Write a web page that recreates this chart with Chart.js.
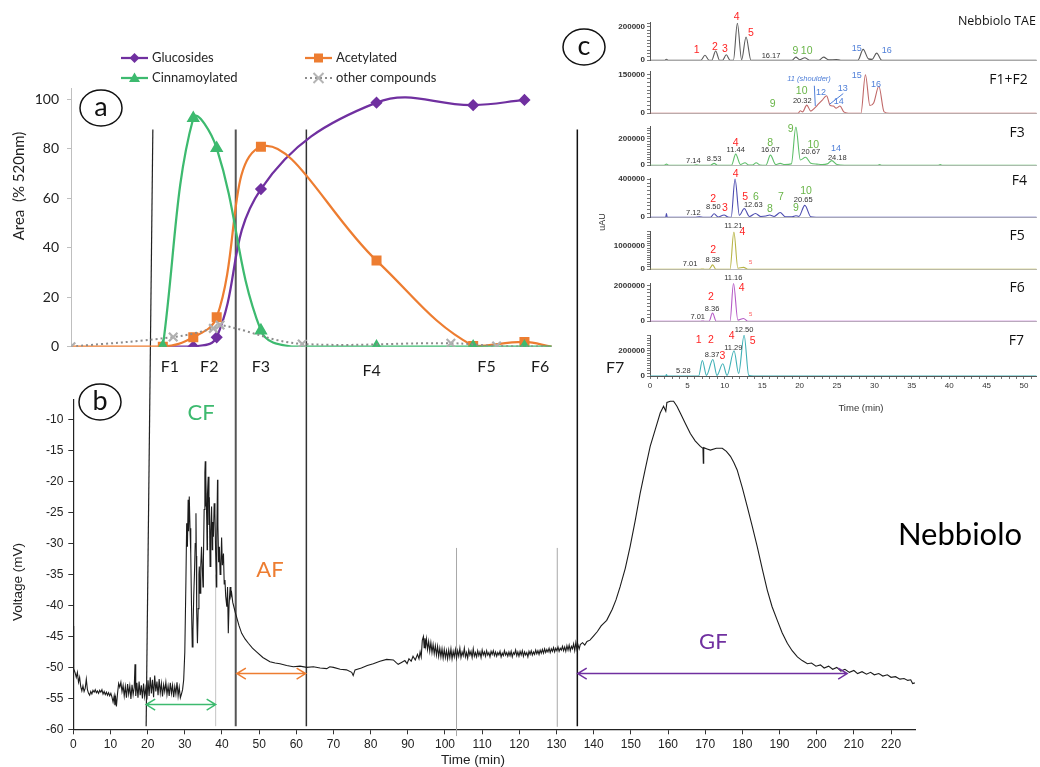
<!DOCTYPE html>
<html>
<head>
<meta charset="utf-8">
<script src="https://cdn.jsdelivr.net/npm/chart.js"></script>
<style>
  html, body { margin: 0; padding: 0; background: #fff; }
  #page { position: relative; width: 1040px; height: 767px; overflow: hidden; background: #fff; }
  #page canvas { position: absolute; }
</style>
</head>
<body>
<div id="page">
  <canvas id="elution" width="1040" height="767" style="left:0;top:0"></canvas>
  <canvas id="fractions" width="640" height="400" style="left:0;top:0"></canvas>
</div>
<script>
// ---------- panel a : composition of the fractions (% of 520 nm area), x = elution time (min)
const glucosides    = [[24.7,0],[32.9,0],[39.2,3.8],[51.1,63.7],[82.2,98.6],[108.2,97.6],[122.0,99.7]];
const acetylated    = [[0,0],[24.7,0],[32.9,3.8],[39.2,11.9],[51.1,80.8],[82.2,34.8],[108.2,0.3],[122.0,1.9],[129.3,0]];
const cinnamoylated = [[24.7,0],[32.9,92.3],[39.2,80.2],[51.1,6.5],[59.7,0],[82.2,0],[108.2,0],[122.0,0],[129.3,0]];
const otherCompounds = [[0,0],[27.5,3.9],[38.3,7.4],[40.1,8.8],[62.2,1.1],[102.2,1.4],[114.5,0.3],[129.3,0]];
const areaTicks = [0, 20, 40, 60, 80, 100];
const fractionNames = [['F1',26.6,-8.1],['F2',37.2,-8.1],['F3',51.1,-8.1],['F4',80.9,-9.8],['F5',111.8,-8.1],['F6',126.2,-8.1],['F7',146.4,-8.6]];

// ---------- panel b : detector trace during the run
const timeTicks = [0,10,20,30,40,50,60,70,80,90,100,110,120,130,140,150,160,170,180,190,200,210,220];
const voltTicks = [-60,-55,-50,-45,-40,-35,-30,-25,-20,-15,-10];
const voltageTrace = [
  [0,-49.6],[0.05,-43.3],[0.15,-50.2],[0.5,-50.9],[0.8,-51.6],[1.1,-50.8],[1.4,-52.4],[1.7,-51.6],[2.0,-53.1],[2.3,-53.8],
  [2.6,-53.0],[2.9,-53.9],[3.2,-53.4],[3.5,-51.9],[3.8,-53.6],[4.1,-54.2],[4.4,-54.5],[4.7,-53.9],[5.0,-54.3],[5.3,-53.7],
  [5.6,-54.0],[5.9,-53.6],[6.2,-54.1],[6.5,-53.8],[6.8,-54.2],[7.1,-53.7],[7.4,-54.0],[7.7,-53.6],[8.0,-54.3],[8.3,-53.9],
  [8.6,-54.4],[8.9,-54.0],[9.2,-54.5],[9.5,-54.1],[9.8,-54.6],[10.1,-54.2],[10.4,-54.8],[10.7,-55.6],[11.0,-54.6],[11.2,-56.1],
  [11.4,-55.0],[11.6,-56.3],[11.9,-54.2],[12.2,-52.6],[12.5,-53.2],[12.8,-52.4],[13.1,-53.9],[13.4,-52.9],[13.7,-54.6],[14.0,-53.1],
  [14.3,-54.9],[14.6,-52.7],[14.9,-54.3],[15.2,-53.0],[15.5,-55.1],[15.8,-52.8],[16.1,-54.4],[16.4,-53.2],[16.6,-49.5],[16.8,-54.6],
  [17.1,-52.5],[17.4,-54.9],[17.7,-52.3],[18.0,-54.5],[18.3,-52.9],[18.6,-55.0],[18.9,-52.6],[19.2,-54.7],[19.5,-53.4],[19.8,-55.2],
  [20.1,-52.1],[20.4,-54.6],[20.7,-51.6],[21.0,-54.2],[21.3,-52.0],[21.6,-54.8],[21.9,-51.3],[22.2,-53.9],[22.5,-52.3],[22.8,-54.5],
  [23.1,-51.9],[23.4,-54.1],[23.7,-52.6],[24.0,-54.7],[24.3,-52.8],[24.6,-53.9],[24.9,-52.4],[25.2,-54.4],[25.5,-53.0],[25.8,-54.6],
  [26.1,-52.5],[26.4,-54.2],[26.7,-52.9],[27.0,-54.8],[27.3,-53.1],[27.6,-54.3],[27.9,-52.4],[28.2,-54.6],[28.5,-53.2],[28.8,-54.9],
  [29.1,-54.3],[29.4,-53.6],[29.7,-52.0],[30.0,-47.5],[30.3,-36.0],[30.5,-26.7],[30.7,-30.5],[30.9,-22.9],[31.0,-28.0],[31.2,-22.4],
  [31.4,-27.5],[31.6,-31.6],[31.8,-40.0],[32.0,-46.7],[32.2,-44.0],[32.4,-38.5],[32.6,-34.8],[32.8,-30.0],[33.0,-25.1],[33.1,-32.0],
  [33.2,-41.0],[33.4,-46.1],[33.6,-40.5],[33.8,-35.0],[33.9,-33.7],[34.1,-38.0],[34.3,-33.5],[34.5,-30.5],[34.7,-34.0],[34.9,-37.0],
  [35.0,-33.0],[35.2,-24.5],[35.4,-18.5],[35.5,-16.7],[35.6,-24.0],[35.7,-19.5],[35.9,-26.2],[36.0,-31.0],[36.1,-22.0],[36.3,-19.2],
  [36.5,-27.0],[36.6,-22.5],[36.8,-33.7],[37.0,-28.0],[37.2,-24.0],[37.4,-31.0],[37.5,-26.5],[37.7,-28.9],[37.9,-23.5],[38.1,-25.1],
  [38.3,-31.5],[38.5,-37.0],[38.6,-29.0],[38.8,-19.7],[38.9,-27.0],[39.1,-33.0],[39.3,-30.5],[39.5,-35.0],[39.7,-33.7],[39.9,-29.0],
  [40.1,-33.5],[40.4,-31.6],[40.6,-36.5],[40.8,-35.9],[41.0,-38.5],[41.3,-40.2],[41.5,-37.0],[41.7,-44.5],[41.9,-40.0],[42.2,-37.0],
  [42.4,-38.5],[42.6,-38.0],[42.9,-39.5],[43.2,-40.2],[43.6,-41.2],[43.9,-41.8],[44.6,-43.3],[45.3,-44.5],[46.2,-45.4],[47.1,-46.1],
  [48.2,-46.9],[49.3,-47.5],[51.0,-48.4],[52.9,-49.1],[54.3,-49.3],[55.6,-49.4],[57.4,-49.7],[59.2,-49.9],[61.0,-49.8],[62.8,-50.0],
  [64.6,-49.9],[66.4,-50.1],[68.2,-50.2],[69.0,-49.9],[70.0,-50.0],[71.8,-50.3],[73.5,-50.4],[74.9,-50.8],[75.3,-51.3],[75.8,-50.4],
  [77.5,-50.1],[79.1,-49.7],[80.7,-49.4],[82.5,-49.0],[84.3,-48.7],[86.1,-48.8],[86.8,-49.2],[87.4,-49.5],[88.3,-49.2],[89.2,-48.9],
  [89.8,-49.4],[90.3,-48.6],[90.9,-49.0],[91.4,-48.2],[92.0,-48.8],[92.6,-47.9],[93.0,-48.6],[93.3,-47.5],[93.6,-48.3],[93.9,-45.6],
  [94.2,-45.0],[94.4,-46.8],[94.6,-45.3],[94.8,-46.5],[95.0,-45.4],[95.3,-47.1],[95.6,-45.8],[95.9,-47.4],[96.2,-46.0],[96.5,-47.6],
  [96.8,-46.3],[97.1,-47.8],[97.4,-46.5],[97.7,-48.0],[98.0,-46.6],[98.3,-48.2],[98.6,-46.9],[98.9,-48.3],[99.2,-47.0],[99.5,-48.5],
  [99.8,-47.1],[100.1,-48.4],[100.4,-47.3],[100.7,-48.6],[101.0,-47.2],[101.3,-48.4],[101.6,-47.0],[101.9,-48.6],[102.2,-47.4],[102.5,-48.3],
  [102.8,-47.1],[103.1,-48.5],[103.4,-47.3],[103.7,-48.2],[104.0,-46.9],[104.3,-48.4],[104.6,-47.5],[104.9,-48.1],[105.2,-46.9],[105.5,-48.3],
  [105.8,-47.6],[106.1,-48.5],[106.4,-47.2],[106.7,-48.0],[107.0,-47.4],[107.3,-48.4],[107.6,-47.0],[107.9,-48.2],[108.2,-47.6],[108.5,-48.3],
  [108.8,-47.3],[109.1,-48.1],[109.4,-47.5],[109.7,-48.4],[110.0,-47.2],[110.3,-48.0],[110.6,-47.5],[110.9,-48.2],[111.2,-47.3],[111.5,-48.0],
  [111.8,-47.6],[112.1,-48.3],[112.4,-47.4],[112.7,-47.9],[113.0,-47.3],[113.3,-48.1],[113.6,-47.5],[113.9,-48.2],[114.2,-47.6],[114.5,-48.0],
  [114.8,-47.4],[115.1,-48.3],[115.4,-47.7],[115.7,-48.1],[116.0,-47.3],[116.3,-48.0],[116.6,-47.6],[116.9,-48.2],[117.2,-47.5],[117.5,-48.1],
  [117.8,-47.4],[118.1,-48.3],[118.4,-47.6],[118.7,-47.9],[119.0,-47.2],[119.3,-48.1],[119.6,-47.5],[119.9,-48.2],[120.2,-47.4],[120.5,-48.0],
  [120.8,-47.3],[121.1,-48.2],[121.4,-47.5],[121.7,-48.0],[122.0,-47.6],[122.3,-48.3],[122.6,-47.4],[122.9,-47.9],[123.2,-47.3],[123.5,-48.0],
  [123.8,-47.5],[124.1,-47.9],[124.4,-47.2],[124.7,-47.8],[125.0,-47.3],[125.3,-47.9],[125.6,-47.2],[125.9,-47.7],[126.2,-47.1],[126.5,-47.7],
  [126.8,-47.0],[127.1,-47.6],[127.4,-47.1],[127.7,-47.5],[128.0,-46.9],[128.3,-47.6],[128.6,-47.0],[128.9,-47.4],[129.2,-46.8],[129.5,-47.5],
  [129.8,-46.9],[130.1,-47.3],[130.4,-46.7],[130.7,-47.4],[131.0,-46.9],[131.3,-47.2],[131.6,-46.6],[131.9,-47.3],[132.2,-46.7],[132.5,-47.4],
  [132.8,-46.5],[133.1,-47.2],[133.4,-46.4],[133.7,-47.3],[134.0,-46.6],[134.3,-47.0],[134.6,-46.2],[134.9,-47.3],[135.2,-46.0],[135.5,-47.1],
  [135.8,-46.4],[136.1,-47.0],[136.4,-46.3],[137.0,-46.0],[137.6,-46.4],[138.2,-45.8],[139.0,-45.6],[140.0,-44.9],[141.0,-44.2],[142.0,-43.3],
  [143.5,-42.4],[145.0,-40.6],[146.0,-39.1],[147.1,-37.0],[148.5,-34.0],[149.8,-30.5],[151.2,-26.2],[152.5,-21.9],[153.9,-17.9],[155.2,-14.3],
  [156.6,-11.5],[157.9,-8.9],[158.8,-7.8],[159.4,-8.6],[159.7,-7.2],[160.6,-7.0],[161.5,-7.0],[162.4,-7.8],[163.3,-8.9],[164.6,-10.5],
  [166.0,-12.2],[167.3,-13.4],[168.7,-14.3],[169.4,-14.6],[169.5,-17.0],[169.6,-14.5],[170.5,-14.7],[171.4,-14.9],[173.0,-14.6],[174.6,-14.6],
  [175.7,-15.1],[176.8,-15.9],[177.7,-16.9],[178.6,-18.1],[180.0,-21.0],[181.3,-24.0],[182.7,-27.3],[184.0,-30.5],[185.4,-34.2],[186.7,-37.5],
  [188.0,-40.2],[189.4,-42.4],[190.7,-44.4],[192.1,-46.1],[193.4,-47.3],[194.8,-48.3],[196.1,-48.9],[197.5,-49.4],[198.6,-49.3],[199.8,-49.8],
  [201.0,-49.6],[202.0,-50.1],[203.2,-49.8],[204.3,-50.3],[205.4,-50.0],[206.5,-50.6],[207.6,-50.3],[208.8,-50.8],[210.0,-50.5],[211.0,-51.0],
  [212.2,-50.7],[213.4,-51.1],[214.5,-50.8],[215.5,-51.2],[216.7,-51.0],[217.8,-51.4],[219.0,-51.2],[220.0,-51.6],[221.2,-51.5],[222.4,-51.9],
  [223.5,-51.8],[224.5,-52.1],[225.3,-52.0],[225.8,-52.6],[226.4,-52.5]
];
// fraction cut lines (time at top, time at bottom) and collection ranges (start, end, mV level)
const cutLines = [[21.4,19.6],[43.7,43.7],[62.7,62.7],[135.6,135.6]];
const guideLines = [103.1, 130.2];
const cfEnd = 38.3;
const rangeCF = [19.6, 38.3, -56.0];
const rangeAF = [44.0, 62.5, -51.0];
const rangeGF = [135.7, 208.2, -51.0];

// ---------- panel c : HPLC chromatograms (time min, uAU)
const traceTAE = [[0,0],[2.0,0],[2.2,6000],[2.4,0],[6.8,0],[7.35,29600],[7.9,0],[8.25,0],[8.78,55600],[9.3,0],[9.7,0],[10.2,33000],
  [10.7,0],[11.15,0],[11.68,222000],[12.25,3000],[12.84,139000],[13.5,0],[19.0,0],[19.5,18500],[20.0,3000],[20.7,15000],[21.3,0],
  [22.6,0],[23.2,18500],[23.9,2000],[24.9,4000],[25.5,0],[27.8,0],[28.5,65000],[29.2,8000],[29.7,5000],[30.3,42600],[31.0,0],[51.7,0]];
const traceF1F2 = [[0,0],[19.8,0],[20.1,9800],[20.4,5000],[20.96,31700],[21.5,8000],[22.0,20000],[22.5,35000],[23.0,50000],[23.6,68300],
  [24.1,30000],[24.5,28000],[24.9,20000],[25.4,28000],[25.9,5000],[26.5,0],[28.2,0],[28.8,150000],[29.4,30000],[29.9,40000],[30.6,105000],
  [31.3,5000],[32.0,0],[51.7,0]];
const traceF3 = [[0,0],[1.9,0],[2.2,8000],[2.5,0],[5.8,0],[6.2,3000],[6.6,0],[8.1,0],[8.57,14000],[9.0,0],[10.9,0],[11.46,83700],[12.1,5000],
  [12.7,18600],[13.2,2000],[13.7,2000],[14.2,18600],[14.7,2000],[15.5,0],[16.1,76700],[16.8,5000],[17.4,14000],[18.0,5000],[18.9,10000],
  [19.5,290700],[20.1,40000],[20.8,60500],[21.5,15000],[22.3,8000],[23.0,5000],[23.7,10000],[24.3,34900],[25.0,5000],[26.0,0],[30.4,0],
  [30.7,4000],[31.0,0],[38.5,0],[38.8,4000],[39.1,0],[51.7,0]];
const traceF4 = [[0,0],[2.1,0],[2.2,39000],[2.3,0],[6.0,0],[6.6,4000],[7.2,0],[8.1,0],[8.57,36000],[9.1,2000],[9.9,23000],[10.4,3000],
  [10.85,0],[11.37,403000],[11.95,20000],[12.6,92000],[13.3,8000],[14.1,39000],[14.8,8000],[15.5,12000],[16.0,23000],[16.6,8000],
  [17.4,49000],[18.1,5000],[19.0,5000],[19.5,16000],[19.9,8000],[20.7,124600],[21.5,5000],[22.2,0],[51.7,0]];
const traceF5 = [[0,0],[6.7,0],[7.0,8000],[7.3,0],[7.9,0],[8.38,188000],[8.8,0],[10.7,0],[11.21,1612000],[11.75,40000],[12.5,80000],[13.1,0],[51.7,0]];
const traceF6 = [[0,0],[6.8,0],[7.01,10000],[7.3,0],[7.9,0],[8.36,457600],[8.85,0],[10.7,0],[11.16,2119000],[11.75,60000],[12.5,152500],[13.1,0],[51.7,0]];
const traceF7 = [[0,0],[2.1,0],[2.2,12000],[2.3,0],[6.5,0],[7.0,123000],[7.55,5000],[8.4,131000],[8.95,5000],[9.73,97000],[10.3,5000],
  [11.24,200000],[11.85,20000],[12.58,323000],[13.2,5000],[13.8,0],[51.7,0]];
const stripTimeTicks = [0,5,10,15,20,25,30,35,40,45,50];

// peak annotations: [text, time, uAU, kind]
const labelsTAE = [['1',6.24,61100,'red'],['2',8.69,76100,'red'],['3',10.03,66700,'red'],['4',11.59,259500,'red'],['5',13.5,163300,'red'],
  ['16.17',16.18,26100,'rt'],['9',19.43,55600,'green'],['10',20.95,55600,'green'],['15',27.63,70600,'blue'],['16',31.64,61100,'blue']];
const labelsF1F2 = [['9',16.4,34000,'green'],['10',20.28,85200,'green'],['20.32',20.36,48700,'rt'],['11 (shoulder)',21.26,135400,'italic'],
  ['12',22.86,81600,'blue'],['13',25.76,95100,'blue'],['14',25.23,43900,'blue'],['15',27.63,147400,'blue'],['16',30.21,113400,'blue']];
const labelsF3 = [['7.14',5.79,34800,'rt'],['8.53',8.56,44600,'rt'],['4',11.46,170000,'red'],['11.44',11.46,118500,'rt'],['8',16.08,170000,'green'],
  ['16.07',16.08,118500,'rt'],['9',18.81,274600,'green'],['10',21.83,156100,'green'],['20.67',21.48,102400,'rt'],['14',24.87,128200,'blue'],['24.18',25.04,58500,'rt']];
const labelsF4 = [['7.12',5.79,49100,'rt'],['2',8.46,186700,'red'],['8.50',8.46,105200,'rt'],['3',10.03,91400,'red'],['4',11.46,459000,'red'],
  ['5',12.74,213300,'red'],['6',14.17,213300,'green'],['12.63',13.81,130700,'rt'],['8',16.04,88500,'green'],['7',17.51,213300,'green'],
  ['9',19.52,91400,'green'],['10',20.86,278100,'green'],['20.65',20.49,179900,'rt']];
const labelsF5 = [['11.21',11.14,1840000,'rt'],['4',12.34,1612000,'red'],['2',8.46,812000,'red'],['8.38',8.38,388000,'rt'],['7.01',5.35,212000,'rt'],['5',13.46,280000,'tiny']];
const labelsF6 = [['11.16',11.14,2407000,'rt'],['4',12.26,1847000,'red'],['2',8.16,1338000,'red'],['8.36',8.29,712500,'rt'],['7.01',6.38,239000,'rt'],['5',13.46,371500,'tiny']];
const labelsF7 = [['12.50',12.57,366900,'rt'],['1',6.51,282300,'red'],['2',8.16,282300,'red'],['4',10.92,315400,'red'],['5',13.73,276900,'red'],
  ['11.29',11.14,225400,'rt'],['3',9.67,153800,'red'],['8.37',8.29,163800,'rt'],['5.28',4.45,38500,'rt']];
const leadersF1F2 = [[[21.97,107200],[22.1,28200]],[[23.97,34000],[25.84,76800]]];

const strips = [
  { name: 'Nebbiolo TAE', nameAt: [51.6,234600], trace: traceTAE,  color: '#5a5a5a', max: 225000,  tick: 200000,  labels: labelsTAE,  top: 22.7,  zero: 62.7 },
  { name: 'F1+F2',        nameAt: [50.5,128000], trace: traceF1F2, color: '#c06868', max: 162000,  tick: 150000,  labels: labelsF1F2, top: 71.7,  zero: 116, leaders: leadersF1F2 },
  { name: 'F3',           nameAt: [50.1,245000], trace: traceF3,   color: '#5fbf6a', max: 292000,  tick: 200000,  labels: labelsF3,   top: 126.7, zero: 167.7 },
  { name: 'F4',           nameAt: [50.4,376600], trace: traceF4,   color: '#4c4cb0', max: 410000,  tick: 400000,  labels: labelsF4,   top: 178.3, zero: 220 },
  { name: 'F5',           nameAt: [50.1,1412000], trace: traceF5,  color: '#b8b446', max: 1612000, tick: 1000000, labels: labelsF5,   top: 231.7, zero: 272 },
  { name: 'F6',           nameAt: [50.1,1859600], trace: traceF6,  color: '#b55ac6', max: 2120000, tick: 2000000, labels: labelsF6,   top: 283.3, zero: 324 },
  { name: 'F7',           nameAt: [50.0,279800], trace: traceF7,   color: '#3fb0b6', max: 325000,  tick: 200000,  labels: labelsF7,   top: 335,   zero: 376 }
];

const PURPLE = '#7030a0', ORANGE = '#ed7d31', GREEN = '#3dba6f', GREY = '#8c8c8c';
const labelStyle = {
  red:    { color: '#ff2424', font: '10.5px "Liberation Sans"' },
  green:  { color: '#69b548', font: '10.5px "Liberation Sans"' },
  blue:   { color: '#4f7fd8', font: '9px "Liberation Sans"' },
  italic: { color: '#4f7fd8', font: 'italic 7.5px "Liberation Sans"' },
  rt:     { color: '#333', font: '7.5px "Liberation Sans"' },
  tiny:   { color: '#ff5a5a', font: '6px "Liberation Sans"' }
};

function ellipseLabel(ctx, cx, cy, letter) {
  ctx.save();
  ctx.beginPath();
  ctx.ellipse(cx, cy, 21, 18, 0, 0, Math.PI * 2);
  ctx.lineWidth = 1.5;
  ctx.strokeStyle = '#111';
  ctx.stroke();
  ctx.fillStyle = '#111';
  ctx.font = '27px Lato';
  ctx.textAlign = 'center';
  ctx.textBaseline = 'middle';
  ctx.fillText(letter, cx, cy - 1);
  ctx.restore();
}

function arrow(ctx, x1, x2, y, color) {
  ctx.save();
  ctx.strokeStyle = color;
  ctx.lineWidth = 1.5;
  ctx.beginPath();
  ctx.moveTo(x1, y); ctx.lineTo(x2, y);
  ctx.moveTo(x1 + 9, y - 5.5); ctx.lineTo(x1, y); ctx.lineTo(x1 + 9, y + 5.5);
  ctx.moveTo(x2 - 9, y - 5.5); ctx.lineTo(x2, y); ctx.lineTo(x2 - 9, y + 5.5);
  ctx.stroke();
  ctx.restore();
}

// ---------- panel b
const elutionDecor = {
  id: 'elutionDecor',
  beforeDatasetsDraw(chart) {
    const { ctx, scales: { x, y } } = chart;
    ctx.save();
    // fraction cuts, they run up through panel a
    const widths = [1.2, 2, 1.5, 1.5];
    const colors = ['#222', '#555', '#333', '#111'];
    cutLines.forEach(([tTop, tBottom], i) => {
      ctx.beginPath();
      ctx.strokeStyle = colors[i];
      ctx.lineWidth = widths[i];
      ctx.moveTo(x.getPixelForValue(tTop), y.getPixelForValue(36.9));
      ctx.lineTo(x.getPixelForValue(tBottom), y.getPixelForValue(-59.5));
      ctx.stroke();
    });
    ctx.strokeStyle = '#a8a8a8';
    ctx.lineWidth = 1;
    guideLines.forEach((t, i) => {
      ctx.beginPath();
      ctx.moveTo(x.getPixelForValue(t), y.getPixelForValue(-30.7));
      ctx.lineTo(x.getPixelForValue(t), y.getPixelForValue(i === 0 ? -61.1 : -59.6));
      ctx.stroke();
    });
    ctx.strokeStyle = '#c4c4c4';
    ctx.beginPath();
    ctx.moveTo(x.getPixelForValue(cfEnd), y.getPixelForValue(-35));
    ctx.lineTo(x.getPixelForValue(cfEnd), y.getPixelForValue(-59.5));
    ctx.stroke();
    ctx.restore();
  },
  afterDraw(chart) {
    const { ctx, scales: { x, y } } = chart;
    [[rangeCF, GREEN], [rangeAF, ORANGE], [rangeGF, PURPLE]].forEach(([r, c]) => {
      arrow(ctx, x.getPixelForValue(r[0]), x.getPixelForValue(r[1]), y.getPixelForValue(r[2]), c);
    });
    ctx.save();
    ctx.textAlign = 'center';
    ctx.textBaseline = 'middle';
    ctx.font = '22px Lato';
    ctx.fillStyle = GREEN;  ctx.fillText('CF', x.getPixelForValue(34.4), y.getPixelForValue(-8.9));
    ctx.fillStyle = ORANGE; ctx.fillText('AF', x.getPixelForValue(52.9), y.getPixelForValue(-34.3));
    ctx.fillStyle = PURPLE; ctx.fillText('GF', x.getPixelForValue(172.2), y.getPixelForValue(-45.9));
    ctx.fillStyle = '#000';
    ctx.font = '31px Lato';
    ctx.fillText('Nebbiolo', 960, 535);
    ctx.fillStyle = '#222';
    ctx.font = '13.5px "Liberation Sans"';
    ctx.fillText('Time (min)', 473, 760);
    ctx.save();
    ctx.translate(18, 582);
    ctx.rotate(-Math.PI / 2);
    ctx.font = '13.5px "Liberation Sans"';
    ctx.fillText('Voltage (mV)', 0, 0);
    ctx.restore();
    ctx.save();
    ctx.translate(603, 222);
    ctx.rotate(-Math.PI / 2);
    ctx.font = '9px "Liberation Sans"';
    ctx.fillStyle = '#333';
    ctx.fillText('uAU', 0, 0);
    ctx.restore();
    ctx.restore();
    ellipseLabel(ctx, 100, 402, 'b');
    ellipseLabel(ctx, 584, 47, 'c');
  }
};

new Chart(document.getElementById('elution'), {
  type: 'scatter',
  data: {
    datasets: [{
      data: voltageTrace,
      showLine: true,
      borderColor: '#1c1c1c',
      borderWidth: 1.1,
      pointRadius: 0,
      tension: 0
    }]
  },
  options: {
    responsive: false,
    animation: false,
    devicePixelRatio: 1,
    events: [],
    layout: { padding: { left: 0, right: 124.8, top: 400, bottom: 0 } },
    plugins: { legend: { display: false }, tooltip: { enabled: false } },
    scales: {
      x: {
        type: 'linear', min: 0, max: 226.5,
        afterBuildTicks: s => { s.ticks = timeTicks.map(v => ({ value: v })); },
        afterFit: s => { s.height = 37.7; },
        grid: { drawOnChartArea: false, tickLength: 5, color: '#333' },
        border: { color: '#222', width: 1.2 },
        ticks: { autoSkip: false, maxRotation: 0, padding: 3, color: '#222', font: { family: 'Liberation Sans', size: 12 } }
      },
      y: {
        type: 'linear', min: -60, max: -6.8,
        afterBuildTicks: s => { s.ticks = voltTicks.map(v => ({ value: v })); },
        afterFit: s => { s.width = 73.3; },
        grid: { drawOnChartArea: false, tickLength: 5, color: '#333' },
        border: { color: '#222', width: 1.2 },
        ticks: { autoSkip: false, padding: 5, color: '#222', font: { family: 'Liberation Sans', size: 12 } }
      }
    }
  },
  plugins: [elutionDecor]
});

// ---------- panel a
function drawMarker(ctx, kind, x, y, color) {
  ctx.save();
  ctx.fillStyle = color;
  ctx.strokeStyle = color;
  ctx.beginPath();
  if (kind === 'diamond') {
    ctx.moveTo(x, y - 5); ctx.lineTo(x + 5, y); ctx.lineTo(x, y + 5); ctx.lineTo(x - 5, y); ctx.closePath(); ctx.fill();
  } else if (kind === 'square') {
    ctx.fillRect(x - 4.5, y - 4.5, 9, 9);
  } else if (kind === 'triangle') {
    ctx.moveTo(x, y - 5.5); ctx.lineTo(x + 5.5, y + 4); ctx.lineTo(x - 5.5, y + 4); ctx.closePath(); ctx.fill();
  } else {
    ctx.lineWidth = 2;
    ctx.strokeStyle = '#b4b4b4';
    ctx.moveTo(x - 5, y - 5); ctx.lineTo(x + 5, y + 5); ctx.moveTo(x + 5, y - 5); ctx.lineTo(x - 5, y + 5); ctx.stroke();
  }
  ctx.restore();
}

const fractionDecor = {
  id: 'fractionDecor',
  afterDraw(chart) {
    const { ctx, scales: { x, y } } = chart;
    ctx.save();
    // legend
    const items = [['Glucosides', PURPLE, 'diamond', 121, 58], ['Acetylated', ORANGE, 'square', 305, 58],
                   ['Cinnamoylated', GREEN, 'triangle', 121, 78], ['other compounds', GREY, 'cross', 305, 78]];
    items.forEach(([label, color, kind, lx, ly]) => {
      ctx.save();
      ctx.strokeStyle = color;
      ctx.lineWidth = kind === 'cross' ? 2 : 2.25;
      if (kind === 'cross') ctx.setLineDash([2, 3]);
      ctx.beginPath(); ctx.moveTo(lx, ly); ctx.lineTo(lx + 27, ly); ctx.stroke();
      ctx.restore();
      drawMarker(ctx, kind, lx + 13.5, ly, color);
      ctx.fillStyle = '#262626';
      ctx.font = '13px Lato';
      ctx.textAlign = 'left';
      ctx.textBaseline = 'middle';
      ctx.fillText(label, lx + 31, ly);
    });
    // fraction names
    ctx.fillStyle = '#1a1a1a';
    ctx.font = '16px Lato';
    ctx.textAlign = 'center';
    ctx.textBaseline = 'middle';
    fractionNames.forEach(([n, t, v]) => ctx.fillText(n, x.getPixelForValue(t), y.getPixelForValue(v)));
    ctx.save();
    ctx.translate(19, 186);
    ctx.rotate(-Math.PI / 2);
    ctx.font = '15px Lato';
    ctx.fillStyle = '#222';
    ctx.fillText('Area  (% 520nm)', 0, 0);
    ctx.restore();
    ctx.restore();
    ellipseLabel(ctx, 101, 108, 'a');
  }
};

const noMarker = (idx) => (c) => (idx.includes(c.dataIndex) ? 0 : undefined);

new Chart(document.getElementById('fractions'), {
  type: 'scatter',
  data: {
    datasets: [
      { label: 'other compounds', data: otherCompounds, order: 0, showLine: true, borderColor: GREY, borderWidth: 2, borderDash: [2, 3],
        tension: 0.4, pointStyle: 'crossRot', pointBorderColor: '#b0b0b0', pointBorderWidth: 2.2,
        pointRadius: c => (c.dataIndex === otherCompounds.length - 1 ? 0 : 6) },
      { label: 'Cinnamoylated', data: cinnamoylated, order: 1, showLine: true, borderColor: GREEN, borderWidth: 2.25, tension: 0.4,
        pointStyle: 'triangle', backgroundColor: GREEN, pointBorderColor: GREEN,
        pointRadius: c => ([4, 8].includes(c.dataIndex) ? 0 : 5.5) },
      { label: 'Acetylated', data: acetylated, order: 2, showLine: true, borderColor: ORANGE, borderWidth: 2.25, tension: 0.4,
        pointStyle: 'rect', backgroundColor: ORANGE, pointBorderColor: ORANGE,
        pointRadius: c => ([0, 8].includes(c.dataIndex) ? 0 : 5.5) },
      { label: 'Glucosides', data: glucosides, order: 3, showLine: true, borderColor: PURPLE, borderWidth: 2.25, tension: 0.4,
        pointStyle: 'rectRot', backgroundColor: PURPLE, pointBorderColor: PURPLE,
        pointRadius: c => (c.dataIndex === 0 ? 0 : 4.5) }
    ]
  },
  options: {
    responsive: false,
    animation: false,
    devicePixelRatio: 1,
    events: [],
    layout: { padding: { left: 0, right: 59.8, top: 88.3, bottom: 53.3 } },
    plugins: { legend: { display: false }, tooltip: { enabled: false } },
    scales: {
      x: { type: 'linear', min: 0, max: 137, display: false },
      y: {
        type: 'linear', min: 0, max: 104.4,
        afterBuildTicks: s => { s.ticks = areaTicks.map(v => ({ value: v })); },
        afterFit: s => { s.width = 71; },
        grid: { drawOnChartArea: false, tickLength: 4, color: '#bfbfbf' },
        border: { color: '#bfbfbf', width: 1 },
        ticks: { padding: 8, color: '#222', font: { family: 'Lato', size: 14 } }
      }
    }
  },
  plugins: [fractionDecor]
});

// ---------- panel c
const stripLabels = {
  id: 'stripLabels',
  afterDraw(chart) {
    const { ctx, scales: { x, y } } = chart;
    const s = chart.options.plugins.stripInfo;
    ctx.save();
    ctx.textAlign = 'center';
    ctx.textBaseline = 'middle';
    s.labels.forEach(([txt, t, v, kind]) => {
      ctx.fillStyle = labelStyle[kind].color;
      ctx.font = labelStyle[kind].font;
      ctx.fillText(txt, x.getPixelForValue(t), y.getPixelForValue(v));
    });
    if (s.leaders) {
      ctx.strokeStyle = '#4f7fd8';
      ctx.lineWidth = 1;
      s.leaders.forEach(([a, b]) => {
        ctx.beginPath();
        ctx.moveTo(x.getPixelForValue(a[0]), y.getPixelForValue(a[1]));
        ctx.lineTo(x.getPixelForValue(b[0]), y.getPixelForValue(b[1]));
        ctx.stroke();
      });
    }
    ctx.fillStyle = '#111';
    ctx.textAlign = 'right';
    ctx.font = s.name.length > 6 ? '12.5px "Open Sans"' : '14px "Open Sans"';
    ctx.fillText(s.name, x.getPixelForValue(s.nameAt[0]), y.getPixelForValue(s.nameAt[1]));
    if (s.bottom) {
      ctx.textAlign = 'center';
      ctx.fillStyle = '#333';
      ctx.font = '9.5px "Liberation Sans"';
      ctx.fillText('Time (min)', x.getPixelForValue(28.2), chart.chartArea.bottom + 32);
    }
    ctx.restore();
  }
};

const page = document.getElementById('page');
strips.forEach((s, i) => {
  const bottom = i === strips.length - 1;
  const cv = document.createElement('canvas');
  const top = Math.floor(s.top - 16);
  const h = Math.ceil(s.zero + (bottom ? 44 : 4)) - top;
  cv.width = 440;
  cv.height = h;
  cv.style.left = '600px';
  cv.style.top = top + 'px';
  page.appendChild(cv);
  const xHeight = h - (s.zero - top);
  new Chart(cv, {
    type: 'scatter',
    data: {
      datasets: [{
        data: s.trace, showLine: true, borderColor: s.color, borderWidth: 1.1,
        pointRadius: 0, tension: 0.4, cubicInterpolationMode: 'monotone'
      }]
    },
    options: {
      responsive: false,
      animation: false,
      devicePixelRatio: 1,
      events: [],
      layout: { padding: { left: 0, right: 3.3, top: s.top - top, bottom: 0 } },
      plugins: { legend: { display: false }, tooltip: { enabled: false },
                 stripInfo: { labels: s.labels, leaders: s.leaders, name: s.name, nameAt: s.nameAt, bottom } },
      scales: {
        x: {
          type: 'linear', min: 0, max: 51.7,
          afterBuildTicks: sc => { const t = []; for (let v = 0; v <= 51; v++) t.push({ value: v }); sc.ticks = t; },
          afterFit: sc => { sc.height = xHeight; },
          grid: { drawOnChartArea: false, drawTicks: bottom, tickLength: 3, color: '#777' },
          border: { color: bottom ? '#555' : '#bbb', width: 1 },
          ticks: { display: bottom, autoSkip: false, maxRotation: 0, padding: 2, color: '#333',
                   font: { family: 'Liberation Sans', size: 8 },
                   callback: v => (stripTimeTicks.includes(v) ? String(v) : '') }
        },
        y: {
          type: 'linear', min: 0, max: s.max,
          afterBuildTicks: sc => { const t = []; for (let k = 0; k * s.tick / 10 <= s.max; k++) t.push({ value: k * s.tick / 10 }); sc.ticks = t; },
          afterFit: sc => { sc.width = 50; },
          grid: { drawOnChartArea: false, tickLength: 3, color: '#777' },
          border: { color: '#555', width: 1 },
          ticks: { autoSkip: false, padding: 2, color: '#333', font: { family: 'Liberation Sans', size: 8, weight: 'bold' },
                   callback: v => (v === 0 || v === s.tick ? String(v) : '') }
        }
      }
    },
    plugins: [stripLabels]
  });
});
</script>
</body>
</html>
